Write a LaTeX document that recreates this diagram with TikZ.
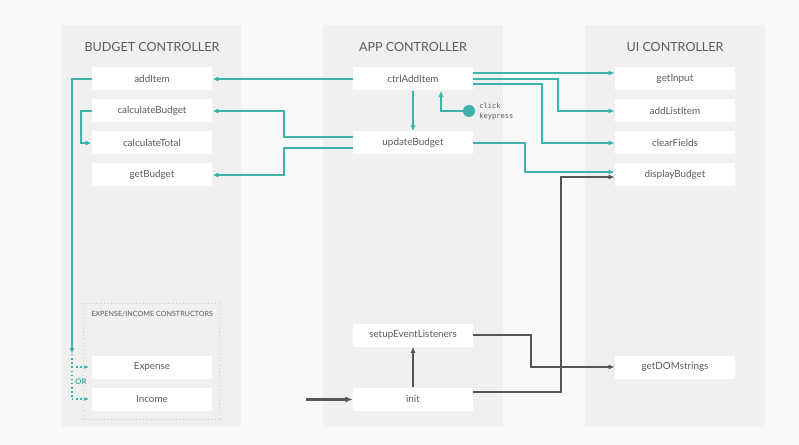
\documentclass[tikz,border=0pt]{standalone}
\usepackage{fontspec}
\setmainfont{Lato}
\newfontfamily\codefont{DejaVu Sans Mono}
\usetikzlibrary{arrows.meta,calc}
\definecolor{pagebg}{HTML}{F8F8F8}
\definecolor{panelbg}{HTML}{F0F0F0}
\definecolor{tealline}{HTML}{3DB3AB}
\definecolor{darkline}{HTML}{555555}
\definecolor{txt}{HTML}{5C5C5C}
\begin{document}
\begin{tikzpicture}[x=0.75pt,y=-0.75pt,
  panel/.style={fill=panelbg,draw=none},
  title/.style={text=txt,font=\fontsize{9.4}{11}\selectfont},
  fn/.style={fill=white,draw=none,minimum width=90pt,minimum height=17.25pt,inner sep=0pt,
    text=txt,font=\fontsize{7.4}{9}\selectfont},
  tl/.style={draw=tealline,line width=1.5pt,-{Latex[length=4.5pt,width=3.6pt]}},
  tldot/.style={draw=tealline,line width=1.1pt,dotted,-{Latex[length=3.4pt,width=2.8pt]}},
  dk/.style={draw=darkline,line width=1.4pt,-{Latex[length=4.5pt,width=3.6pt]}},
  dkthick/.style={draw=darkline,line width=2.25pt,-{Latex[length=5.5pt,width=4.6pt]}},
]
% canvas
\fill[pagebg] (0,0) rectangle (799,445);
\useasboundingbox (0,0) rectangle (799,445);

% controller panels
\fill[panel] (62,25) rectangle (241,427);
\fill[panel] (323,25) rectangle (503,427);
\fill[panel] (585,25) rectangle (765,427);

\node[title] (tBudget) at (152,47) {BUDGET CONTROLLER};
\node[title] (tApp) at (413,47) {APP CONTROLLER};
\node[title] (tUI) at (675,47) {UI CONTROLLER};

% constructors group
\draw[darkline!30,dotted,line width=0.7pt] (83,303) rectangle (219,419);
\node[anchor=west,text=txt,font=\fontsize{5.4}{6}\selectfont,inner sep=0pt] (tCons) at (91,314) {EXPENSE/INCOME CONSTRUCTORS};

% budget controller
\node[fn] (addItem) at (152,79) {addItem};
\node[fn] (calcB) at (152,111) {calculateBudget};
\node[fn] (calcT) at (152,143) {calculateTotal};
\node[fn] (getB) at (152,175) {getBudget};
\node[fn] (expense) at (152,367) {Expense};
\node[fn] (income) at (152,399) {Income};

% app controller
\node[fn] (ctrl) at (413,79) {ctrlAddItem};
\node[fn] (upd) at (413,143) {updateBudget};
\node[fn] (setup) at (413,335) {setupEventListeners};
\node[fn] (init) at (413,399) {init};

% ui controller
\node[fn] (getIn) at (675,79) {getInput};
\node[fn] (addList) at (675,111) {addListItem};
\node[fn] (clear) at (675,143) {clearFields};
\node[fn] (disp) at (675,175) {displayBudget};
\node[fn] (dom) at (675,367) {getDOMstrings};

% event source
\node[circle,fill=tealline,minimum size=9pt,inner sep=0pt] (dot) at (469,111) {};
\node[anchor=west,text=txt,font=\codefont\fontsize{5.3}{7.5}\selectfont,align=left,inner sep=0pt] (events) at (479,112) {click\\keypress};

% teal calls
\draw[tl] (ctrl.west) -- (addItem.east);
\draw[tl] ([yshift=4.5pt]upd.west) -| ([xshift=54pt]calcB.east) -- (calcB.east);
\draw[tl] ([yshift=-3.75pt]upd.west) -| ([xshift=54pt]getB.east) -- (getB.east);
\draw[tl] (calcB.west) -- ++(-11,0) |- (calcT.west);
\draw[tl] (ctrl.south) -- (upd.north);
\draw[tl] (dot.west) -| ([xshift=21pt]ctrl.south);
\draw[tl] ([yshift=4.5pt]ctrl.east) -- ([yshift=4.5pt]getIn.west);
\draw[tl] (ctrl.east) -| ([xshift=-42.75pt]addList.west) -- (addList.west);
\draw[tl] ([yshift=-3.75pt]ctrl.east) -| ([xshift=-54.75pt]clear.west) -- (clear.west);
\draw[tl] (upd.east) -| ([xshift=-67.5pt,yshift=2.25pt]disp.west) -- ([yshift=2.25pt]disp.west);

% new item goes to one of the constructors
\coordinate (split) at (72,354);
\coordinate (orTop) at (72,367);
\coordinate (orBot) at (72,399);
\draw[tl] (addItem.west) -| (split);
\draw[tealline,line width=1.1pt,dotted] (split) -- (orBot);
\draw[tldot] (orTop) -- ([xshift=-2pt]expense.west);
\draw[tldot] (orBot) -- ([xshift=-2pt]income.west);
\node[text=tealline,font=\bfseries\fontsize{5.8}{7}\selectfont,inner sep=0pt] (orLabel) at (81,382) {OR};

% initialisation
\coordinate (start) at (306,399.5);
\draw[dkthick] (start) -- ([yshift=-0.375pt]init.west);
\draw[dk] (init.north) -- (setup.south);
\draw[dk] (setup.east) -| ([xshift=-63pt]dom.west) -- (dom.west);
\draw[dk] ([yshift=5.25pt]init.east) -| ([xshift=-40.5pt,yshift=-1.5pt]disp.west) -- ([yshift=-1.5pt]disp.west);
\end{tikzpicture}
\end{document}
